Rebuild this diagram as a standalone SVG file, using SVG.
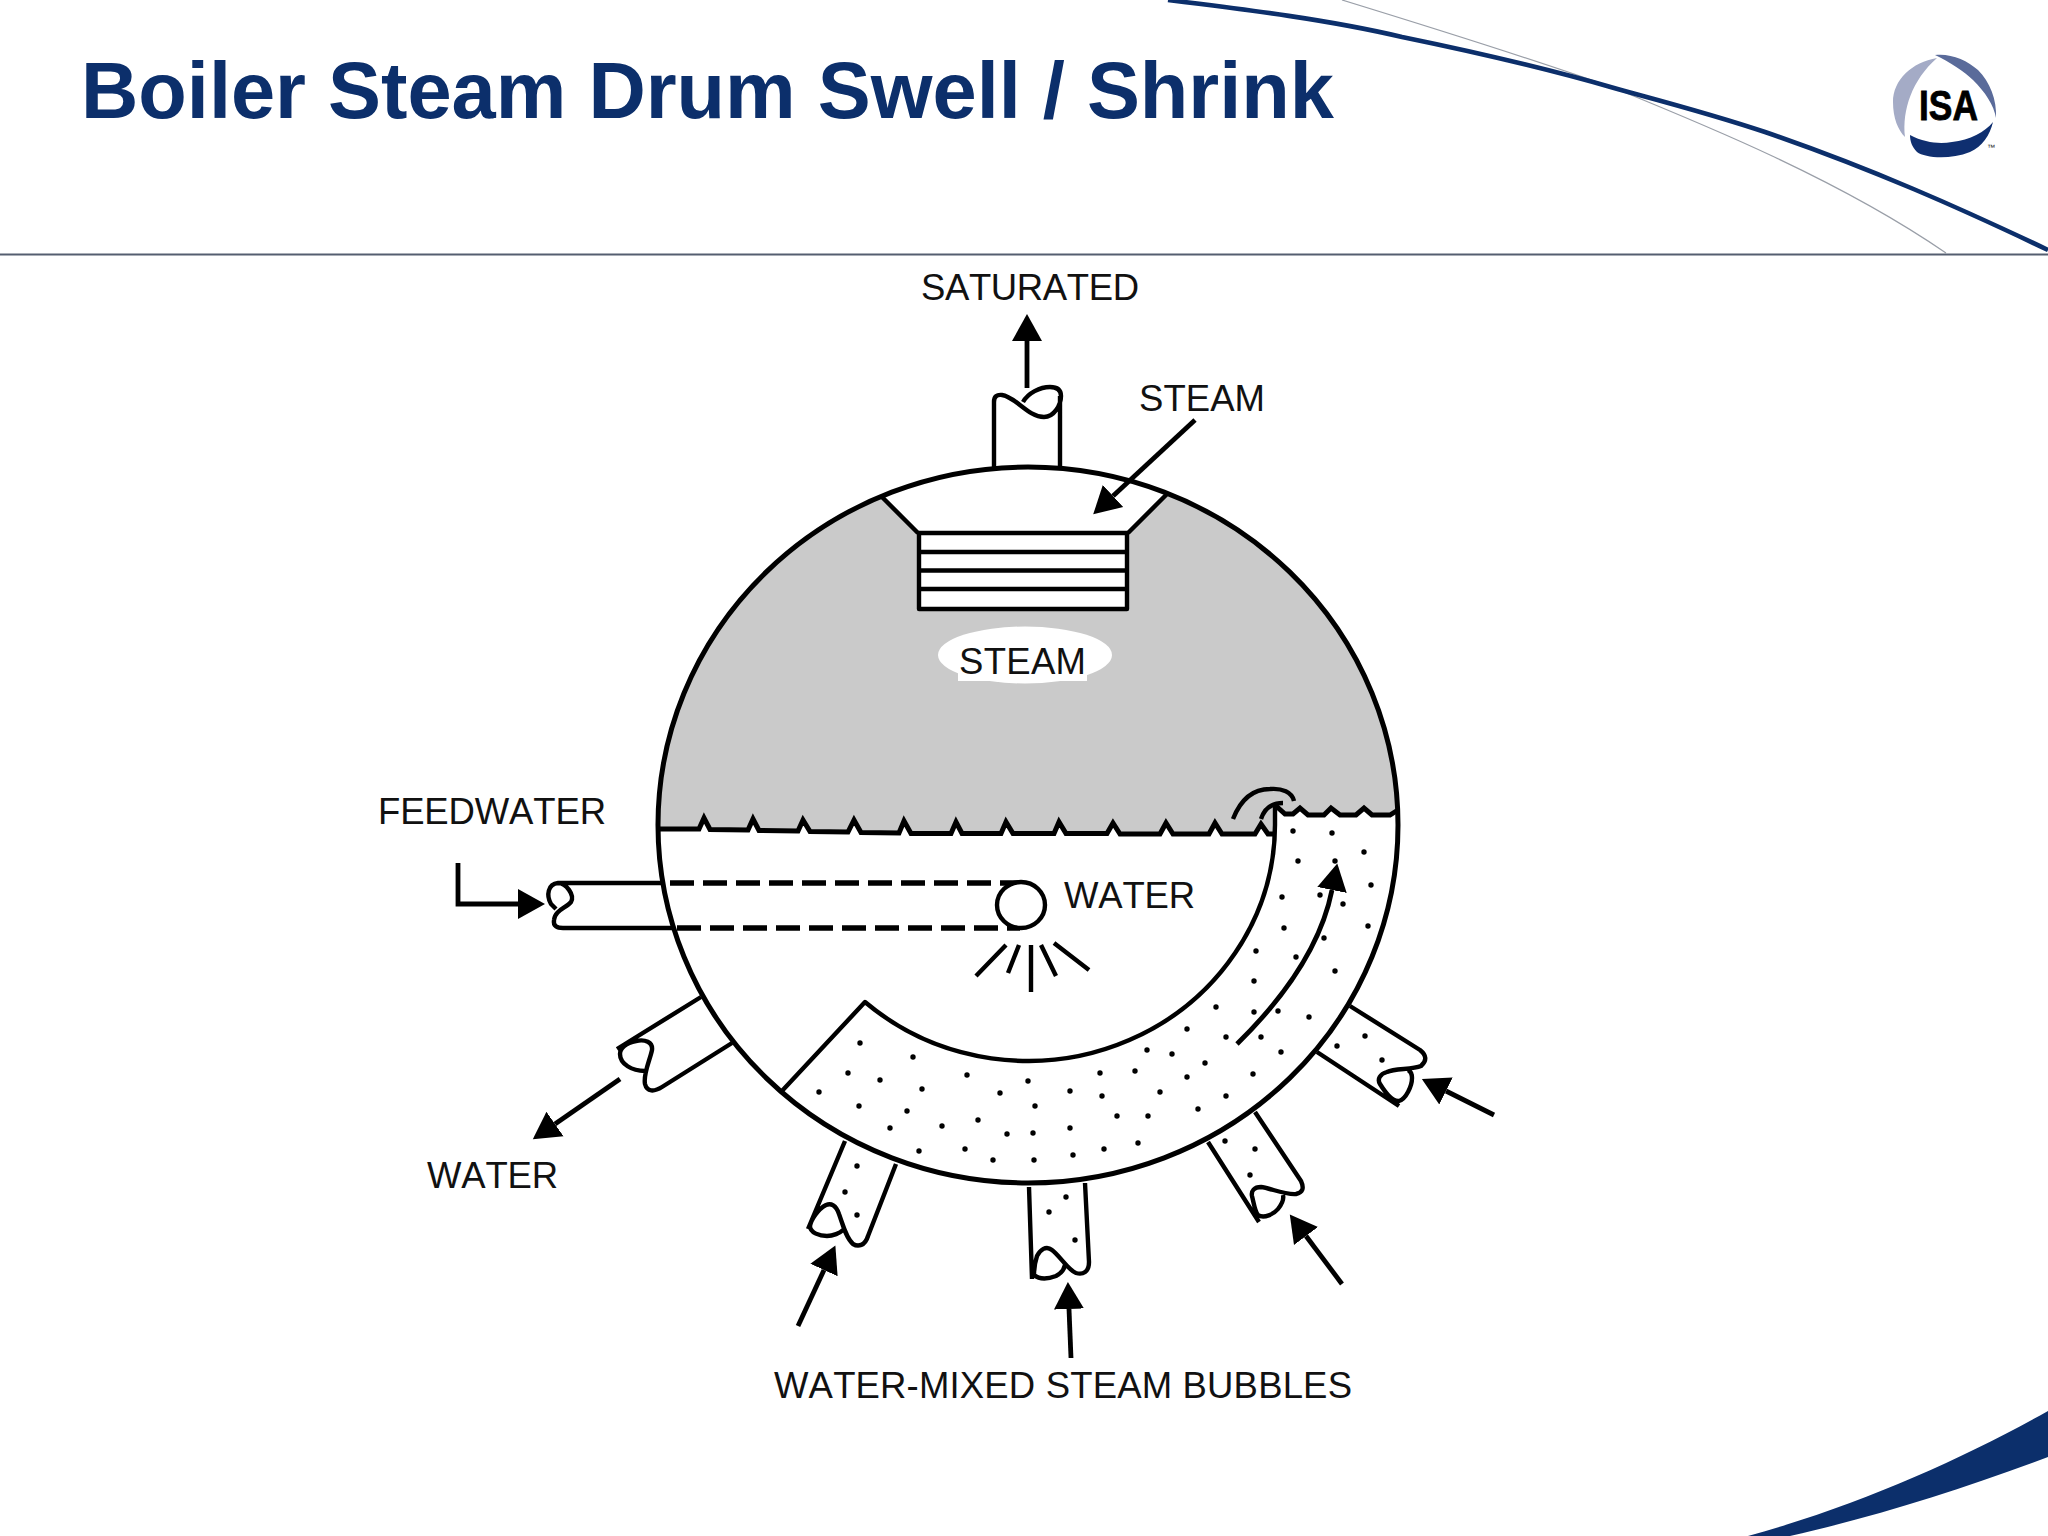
<svg xmlns="http://www.w3.org/2000/svg" width="2048" height="1536" viewBox="0 0 2048 1536">
<style>
.t{font-family:"Liberation Sans",Arial,sans-serif;font-size:36.5px;fill:#111;font-kerning:none}
.s{fill:none;stroke:#000;stroke-width:4.4;stroke-linejoin:round;stroke-linecap:butt}
.w{fill:none;stroke:#000;stroke-width:5;stroke-linejoin:miter}
.d{fill:none;stroke:#000;stroke-width:5.5;stroke-dasharray:24 9}
.p{fill:#fff;stroke:#000;stroke-width:4.4;stroke-linejoin:round}
.a{fill:none;stroke:#000;stroke-width:4.8;marker-end:url(#ah)}
.n{fill:#0c2f6b}
#dots circle{fill:#000;r:2.7px}
</style>
<defs>
<marker id="ah" markerUnits="userSpaceOnUse" markerWidth="28" markerHeight="32" refX="0" refY="16" orient="auto" viewBox="0 0 28 32"><path d="M0,1 L27,16 L0,31 Z" fill="#000"/></marker>
<clipPath id="drumclip"><ellipse cx="1028" cy="825" rx="370" ry="358"/></clipPath>
</defs>
<rect width="2048" height="1536" fill="#fff"/>
<g id="template">
<path d="M1342,0 C1420,24 1530,58 1614,88 C1705,125 1840,180 1946,253" fill="none" stroke="#9a9fa8" stroke-width="1.2"/>
<path d="M1168,0 C1250,10 1330,20 1402,37 C1475,52 1545,68 1614,88 C1665,102 1715,115 1765,132 C1870,168 1960,208 2048,250" fill="none" stroke="#0c2f6b" stroke-width="4.6"/>
<line x1="0" y1="254.5" x2="2048" y2="254.5" stroke="#555e70" stroke-width="1.8"/>
<path class="n" d="M1748,1536 C1860,1505 1960,1460 2048,1411 L2048,1457 C1960,1490 1870,1518 1790,1536 Z"/>
<text x="81" y="118" font-family="'Liberation Sans',Arial,sans-serif" font-weight="700" font-size="79.4" fill="#0c2f6b">Boiler Steam Drum Swell / Shrink</text>
</g>
<g id="logo">
<path fill="#a4abc6" d="M1937,58 C1912,62 1893,80 1893,102 C1893,118 1898,130 1905,137 C1902,110 1912,80 1937,58 Z"/>
<path fill="#5a6b9a" d="M1935,55 C1950,53 1967,60 1978,70 C1990,82 1997,100 1996,118 C1994,105 1985,92 1973,80 C1965,72 1950,62 1935,55 Z"/>
<path fill="#0f2f70" d="M1910,135 C1925,143 1940,144 1952,142 C1970,140 1985,132 1993,122 C1990,135 1982,147 1970,152 C1950,160 1925,158 1917,152 C1912,147 1910,141 1910,135 Z"/>
<text x="1919" y="120" font-family="'Liberation Sans',Arial,sans-serif" font-weight="700" font-size="42" textLength="59" lengthAdjust="spacingAndGlyphs" fill="#000" stroke="#000" stroke-width="0.8">ISA</text>
<text x="1987" y="150" font-family="'Liberation Sans',Arial,sans-serif" font-size="8" fill="#222">™</text>
</g>
<g id="pipe-saturated"><path class="p" d="M994,470 V402 Q994,394 1002,395 C1016,397 1028,417 1044,417 C1054,417 1061,405 1061,396 Q1061,387 1050,387 C1040,387 1028,393 1023,402 M1060,396 V470"/></g>
<g id="pipe-water-out"><path class="p" d="M732,1043 L662,1087 C654,1092 647,1092 645,1084 C643,1074 650,1060 652,1050 C653,1042 645,1039 636,1041 C626,1043 620,1048 620,1054 C620,1064 632,1071 645,1071 M701,997 L617,1049"/></g>
<g id="pipe-riser-1"><path class="p" d="M896,1164 L868,1236 C865,1246 858,1247 853,1244 C846,1238 843,1225 839,1214 C836,1205 831,1203 826,1205 C818,1209 811,1220 810,1226 C810,1233 820,1236 827,1236 C833,1236 840,1233 843,1230 M845,1141 L808,1229"/></g>
<g id="pipe-riser-2"><path class="p" d="M1085,1183 L1089,1262 C1089,1272 1083,1275 1076,1273 C1068,1270 1060,1256 1052,1250 C1046,1245 1040,1250 1037,1256 C1035,1262 1034,1270 1034,1275 C1040,1280 1048,1279 1056,1276 C1060,1274 1064,1270 1065,1265 M1029,1187 L1032,1279"/></g>
<g id="pipe-riser-3"><path class="p" d="M1255,1112 L1301,1181 Q1306,1192 1296,1194 C1285,1195 1270,1188 1261,1187 C1254,1187 1251,1191 1252,1196 C1254,1204 1255,1212 1258,1215 C1264,1219 1274,1214 1278,1209 C1282,1204 1284,1199 1283,1195 M1208,1142 L1259,1222"/></g>
<g id="pipe-riser-4"><path class="p" d="M1350,1006 L1420,1050 Q1430,1058 1421,1066 C1412,1070 1395,1068 1387,1072 C1380,1074 1377,1079 1380,1084 C1385,1092 1392,1102 1399,1101 C1406,1099 1412,1086 1412,1078 C1412,1074 1410,1071 1408,1070 M1317,1052 L1399,1106"/></g>
<g id="drum">
<ellipse cx="1028" cy="825" rx="370" ry="358" fill="#fff"/>
<path id="steam-space" clip-path="url(#drumclip)" fill="#cacaca" d="M650,829 L699,829 704,818 710,829.5 748,830 753,819 759,830.5 798,831 803,820 810,831.5 848,832 854,820 861,832.5 899,833 904,821 911,833.5 951,833.5 956,822 962,833.5 1001,833.5 1006,822 1013,833.5 1054,833.5 1059,822 1066,833.5 1107,833.5 1113,823 1120,834 1160,834 1166,823 1173,834 1209,834 1215,823 1222,834 1255,834 1261,824 1268,834 L1275,834 1275,805 1285,814 1293,814 1300,808 1308,815 1324,815 1331,808 1340,815 1356,815 1364,808 1372,815 1390,815 1405,806 V460 H650 Z"/>
<path fill="#fff" clip-path="url(#drumclip)" d="M882,455 H1167 V494 L1128,533 L918,533 L882,497 Z"/>
<path class="s" d="M882,497 L918,533 M1167,494 L1128,533"/>
<rect class="p" x="919" y="533" width="208" height="76"/>
<path class="s" d="M919,552 H1127 M919,570.5 H1127 M919,589 H1127"/>
<ellipse cx="1025" cy="655" rx="87" ry="28.5" fill="#fff"/>
<rect x="958" y="668" width="129" height="13" fill="#fff"/>
<path class="w" d="M658,829 L699,829 704,818 710,829.5 748,830 753,819 759,830.5 798,831 803,820 810,831.5 848,832 854,820 861,832.5 899,833 904,821 911,833.5 951,833.5 956,822 962,833.5 1001,833.5 1006,822 1013,833.5 1054,833.5 1059,822 1066,833.5 1107,833.5 1113,823 1120,834 1160,834 1166,823 1173,834 1209,834 1215,823 1222,834 1255,834 1261,824 1268,834 L1275,834"/>
<path class="w" d="M1275,805 L1285,814 1293,814 1300,808 1308,815 1324,815 1331,808 1340,815 1356,815 1364,808 1372,815 1390,815 1398,810"/>
<path class="s" d="M1233,819 C1242,796 1256,789 1270,789 C1282,788 1292,792 1294,801 M1261,819 C1264,810 1270,803 1283,803"/>
<path class="s" d="M1275,805 V825 A247,237 0 0 1 865,1002 L781,1092"/>
<ellipse cx="1028" cy="825" rx="370" ry="358" fill="none" stroke="#000" stroke-width="5"/>
</g>
<g id="feed-pipe">
<path class="s" d="M661,883 H558 C548,884 546,895 551,904 L556,909 M558,883 C566,883 575,895 571,902 C566,908 555,910 554,920 C553,926 557,928 563,928 H675"/>
<path class="d" d="M670,883 H1022 M677,928 H1020"/>
<ellipse cx="1021" cy="905" rx="24" ry="23" fill="#fff" stroke="#000" stroke-width="4.4"/>
<path class="s" d="M1006,945 L976,976 M1019,945 L1008,973 M1031,945 V992 M1041,945 L1056,976 M1054,943 L1089,970"/>
</g>
<g id="dots">
<circle cx="1293" cy="831"/><circle cx="1332" cy="833"/><circle cx="1364" cy="852"/><circle cx="1298" cy="861"/><circle cx="1335" cy="861"/><circle cx="1371" cy="885"/><circle cx="1282" cy="897"/><circle cx="1320" cy="895"/><circle cx="1343" cy="904"/><circle cx="1284" cy="928"/><circle cx="1368" cy="926"/><circle cx="1324" cy="938"/><circle cx="1256" cy="951"/><circle cx="1296" cy="957"/><circle cx="1335" cy="971"/><circle cx="1254" cy="981"/><circle cx="1216" cy="1007"/><circle cx="1254" cy="1012"/><circle cx="1278" cy="1011"/><circle cx="1309" cy="1017"/><circle cx="1187" cy="1029"/><circle cx="1226" cy="1037"/><circle cx="1261" cy="1037"/><circle cx="1281" cy="1052"/><circle cx="1147" cy="1050"/><circle cx="1172" cy="1054"/><circle cx="1205" cy="1063"/><circle cx="1135" cy="1071"/><circle cx="1187" cy="1077"/><circle cx="1253" cy="1074"/><circle cx="1100" cy="1073"/><circle cx="1102" cy="1096"/><circle cx="1160" cy="1092"/><circle cx="1226" cy="1096"/><circle cx="1117" cy="1116"/><circle cx="1148" cy="1116"/><circle cx="1198" cy="1109"/><circle cx="1104" cy="1149"/><circle cx="1138" cy="1143"/>
<circle cx="1365" cy="1036"/><circle cx="1337" cy="1046"/><circle cx="1382" cy="1060"/><circle cx="1225" cy="1141"/><circle cx="1255" cy="1149"/><circle cx="1250" cy="1175"/>
<circle cx="860" cy="1043"/><circle cx="913" cy="1057"/><circle cx="848" cy="1073"/><circle cx="880" cy="1080"/><circle cx="967" cy="1075"/><circle cx="1028" cy="1081"/><circle cx="922" cy="1089"/><circle cx="819" cy="1092"/><circle cx="1000" cy="1093"/><circle cx="1070" cy="1091"/><circle cx="859" cy="1106"/><circle cx="907" cy="1111"/><circle cx="1035" cy="1106"/><circle cx="978" cy="1120"/><circle cx="890" cy="1128"/><circle cx="942" cy="1126"/><circle cx="1007" cy="1134"/><circle cx="1033" cy="1133"/><circle cx="1070" cy="1128"/><circle cx="919" cy="1151"/><circle cx="965" cy="1149"/><circle cx="993" cy="1160"/><circle cx="1034" cy="1160"/><circle cx="1073" cy="1155"/>
<circle cx="857" cy="1166"/><circle cx="845" cy="1192"/><circle cx="857" cy="1215"/><circle cx="1066" cy="1197"/><circle cx="1049" cy="1212"/><circle cx="1075" cy="1240"/>
</g>
<g id="connectors">
<path class="a" d="M1027,388 V341"/>
<path class="a" d="M1195,420 L1113,496"/>
<path class="a" d="M458,863 V904 H518"/>
<path class="a" d="M620,1079 L555,1124"/>
<path class="a" d="M798,1326 L824,1270"/>
<path class="a" d="M1071,1358 L1069,1309"/>
<path class="a" d="M1342,1284 L1306,1236"/>
<path class="a" d="M1494,1115 L1446,1091"/>
<path class="a" d="M1237,1044 C1290,992 1322,940 1332,890"/>
</g>
<g id="labels">
<text class="t" x="921" y="300" textLength="218">SATURATED</text>
<text class="t" x="1139" y="411" textLength="126">STEAM</text>
<text class="t" x="959" y="674" textLength="127">STEAM</text>
<text class="t" x="378" y="824" textLength="228">FEEDWATER</text>
<text class="t" x="1064" y="908" textLength="131">WATER</text>
<text class="t" x="427" y="1188" textLength="131">WATER</text>
<text class="t" x="774" y="1398" textLength="578">WATER-MIXED STEAM BUBBLES</text>
</g>
</svg>
